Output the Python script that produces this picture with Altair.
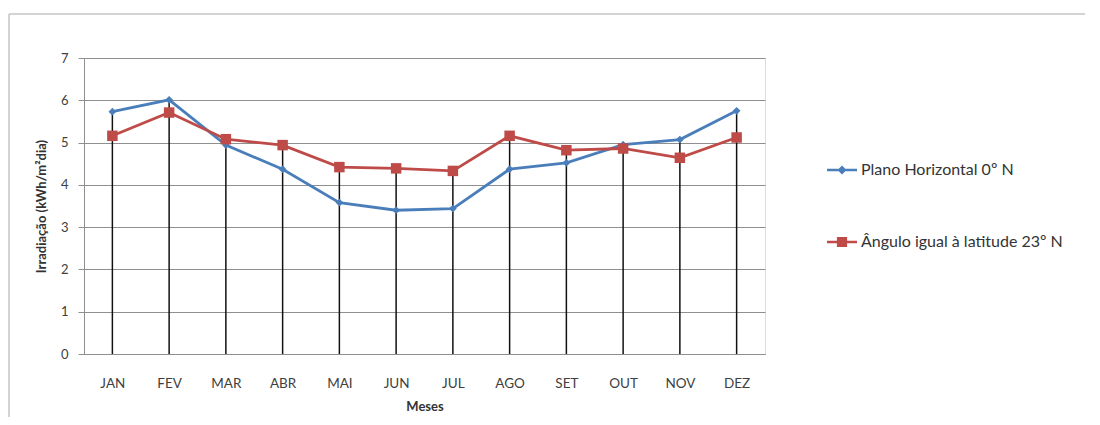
import altair as alt
import pandas as pd

months = ["JAN", "FEV", "MAR", "ABR", "MAI", "JUN", "JUL", "AGO", "SET", "OUT", "NOV", "DEZ"]
horizontal = [5.73, 6.01, 4.94, 4.37, 3.58, 3.40, 3.44, 4.37, 4.52, 4.95, 5.07, 5.75]
latitude = [5.16, 5.71, 5.08, 4.94, 4.42, 4.39, 4.33, 5.16, 4.82, 4.86, 4.64, 5.12]
series_names = ["Plano Horizontal 0º N", "Ângulo igual à latitude 23º N"]
colors = ["#4A7EBB", "#BE4B48"]
y_ticks = [0, 1, 2, 3, 4, 5, 6, 7]

rows = []
for m, h, l in zip(months, horizontal, latitude):
    rows.append({"month": m, "series": series_names[0], "value": h})
    rows.append({"month": m, "series": series_names[1], "value": l})
df = pd.DataFrame(rows)
drop = pd.DataFrame({"month": months,
                     "top": [max(h, l) for h, l in zip(horizontal, latitude)],
                     "base": [0] * len(months)})

FONT = "Lato"
GRID = "#8f8f8f"

x_enc = alt.X("month:N", sort=months,
              scale=alt.Scale(type="point", domain=months, padding=0.5),
              axis=alt.Axis(title="Meses", labelAngle=0, ticks=False, labelPadding=22,
                            titlePadding=11, domainColor=GRID, domainWidth=1,
                            labelFont=FONT, labelFontSize=13.5, labelColor="#404040",
                            titleFont=FONT, titleFontSize=13, titleFontWeight="bold",
                            titleColor="#333333"))
y_scale = alt.Scale(domain=[0, 7], nice=False)
y_axis = alt.Axis(title="Irradiação  (kWh/m²dia)", values=y_ticks, grid=True, gridColor=GRID,
                  gridWidth=1, tickColor=GRID, tickSize=6, labelPadding=10, domainColor=GRID,
                  labelFont=FONT, labelFontSize=13, labelColor="#404040",
                  titleFont=FONT, titleFontSize=13, titleFontWeight="bold", titleColor="#333333",
                  titlePadding=12)

drops = alt.Chart(drop).mark_rule(color="#111111", strokeWidth=1.5).encode(
    x=x_enc,
    y=alt.Y("base:Q", scale=y_scale, axis=y_axis),
    y2="top:Q",
)

line_h = alt.Chart(df).transform_filter(
    alt.datum.series == series_names[0]
).mark_line(strokeWidth=2.8, color=colors[0]).encode(
    x=x_enc, y=alt.Y("value:Q", scale=y_scale))
line_l = alt.Chart(df).transform_filter(
    alt.datum.series == series_names[1]
).mark_line(strokeWidth=2.8, color=colors[1]).encode(
    x=x_enc, y=alt.Y("value:Q", scale=y_scale))

pts_h = alt.Chart(df).transform_filter(
    alt.datum.series == series_names[0]
).mark_point(filled=True, opacity=1, shape="diamond", size=60, color=colors[0]).encode(
    x=x_enc, y=alt.Y("value:Q", scale=y_scale))
pts_l = alt.Chart(df).transform_filter(
    alt.datum.series == series_names[1]
).mark_point(filled=True, opacity=1, shape="square", size=110, color=colors[1]).encode(
    x=x_enc, y=alt.Y("value:Q", scale=y_scale))

# legend-only layer (invisible marks): symbol = line segment + marker
diamond_path = "M-1,-0.085H1V0.085H-1Z M0,-0.3L0.3,0L0,0.3L-0.3,0Z"
square_path = "M-1,-0.085H1V0.085H-1Z M-0.34,-0.34H0.34V0.34H-0.34Z"
legend_cfg = alt.Legend(title=None, orient="none", legendX=743, legendY=97,
                        symbolSize=900, symbolOpacity=1, symbolStrokeWidth=0,
                        labelFont=FONT, labelFontSize=16, labelColor="#333333",
                        labelOffset=4, labelLimit=400)
legend_layer = alt.Chart(df).mark_point(filled=True, opacity=0).encode(
    x=x_enc, y=alt.Y("value:Q", scale=y_scale),
    color=alt.Color("series:N", scale=alt.Scale(domain=series_names, range=colors),
                    sort=series_names, legend=legend_cfg),
    shape=alt.Shape("series:N", scale=alt.Scale(domain=series_names,
                                                range=[diamond_path, square_path]),
                    sort=series_names, legend=legend_cfg),
)

frame_data = alt.Data(values=[{"k": 1}])
frame_top = alt.Chart(frame_data).mark_rule(color="#c4c4c4", strokeWidth=1.5).encode(
    x=alt.value(-75), x2=alt.value(1016), y=alt.value(-44))
frame_left = alt.Chart(frame_data).mark_rule(color="#c4c4c4", strokeWidth=1.5).encode(
    x=alt.value(-75), y=alt.value(-44), y2=alt.value(370))

chart = alt.layer(frame_top, frame_left, drops, line_h, line_l, pts_h, pts_l,
                  legend_layer).properties(
    width=681, height=296,
    autosize=alt.AutoSizeParams(type="none"),
    padding={"left": 76, "top": 50, "right": 320, "bottom": 63},
).configure_view(stroke=None).configure(background="white").configure_legend(rowPadding=49)

chart.save("out.html", embed_options={"renderer": "svg", "actions": False})
